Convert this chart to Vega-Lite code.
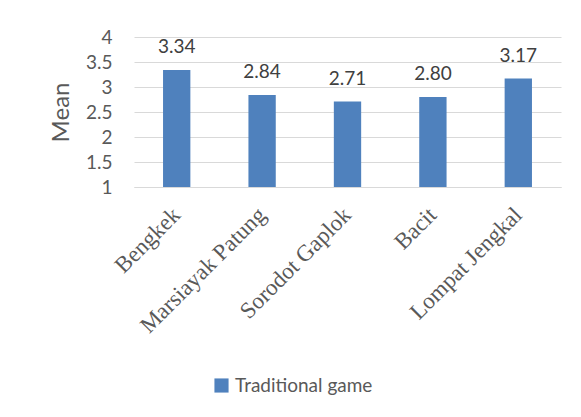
{
  "$schema": "https://vega.github.io/schema/vega-lite/v6.json",
  "autosize": {"type": "none"},
  "padding": {"left": 134, "top": 37, "right": 20, "bottom": 230},
  "width": 427,
  "height": 150,
  "background": "white",
  "config": {"view": {"stroke": null}},
  "data": {"values": [
    {"game": "Bengkek", "mean": 3.34, "label": "3.34"},
    {"game": "Marsiayak Patung", "mean": 2.84, "label": "2.84"},
    {"game": "Sorodot Gaplok", "mean": 2.71, "label": "2.71"},
    {"game": "Bacit", "mean": 2.80, "label": "2.80"},
    {"game": "Lompat Jengkal", "mean": 3.17, "label": "3.17"}
  ]},
  "encoding": {
    "x": {"field": "game", "type": "nominal", "sort": null,
      "scale": {"paddingInner": 0.68, "paddingOuter": 0.34},
      "axis": {"title": null, "labelAngle": -45, "labelAlign": "right", "labelBaseline": "middle",
        "labelFont": "Liberation Serif", "labelFontSize": 23,
        "labelColor": "#595959", "labelPadding": 24, "ticks": false, "domainColor": "#D9D9D9", "labelLimit": 300}},
    "y": {"field": "mean", "type": "quantitative",
      "scale": {"domain": [1, 4], "zero": false, "nice": false},
      "axis": {"title": "Mean", "titleFont": "Lato", "titleFontSize": 24, "titleFontWeight": "normal",
        "titleColor": "#595959", "titlePadding": 12, "values": [1, 1.5, 2, 2.5, 3, 3.5, 4],
        "format": ".1~f", "labelFont": "Lato", "labelFontSize": 19, "labelColor": "#595959",
        "labelPadding": 22, "domain": false, "ticks": false, "gridColor": "#D9D9D9", "gridWidth": 1}}
  },
  "layer": [
    {"mark": {"type": "bar", "color": "#4F81BD"},
     "encoding": {"y2": {"datum": 1},
       "color": {"datum": "Traditional game", "type": "nominal",
         "scale": {"range": ["#4F81BD"]},
         "legend": {"title": null, "orient": "none", "legendX": 78, "legendY": 339,
           "symbolType": "square", "symbolSize": 200, "labelFont": "Lato", "labelFontSize": 19,
           "labelColor": "#595959", "labelOffset": 4}}}},
    {"mark": {"type": "text", "font": "Lato", "fontSize": 19, "color": "#404040", "baseline": "alphabetic", "dy": -17},
     "encoding": {"text": {"field": "label"}}}
  ]
}
